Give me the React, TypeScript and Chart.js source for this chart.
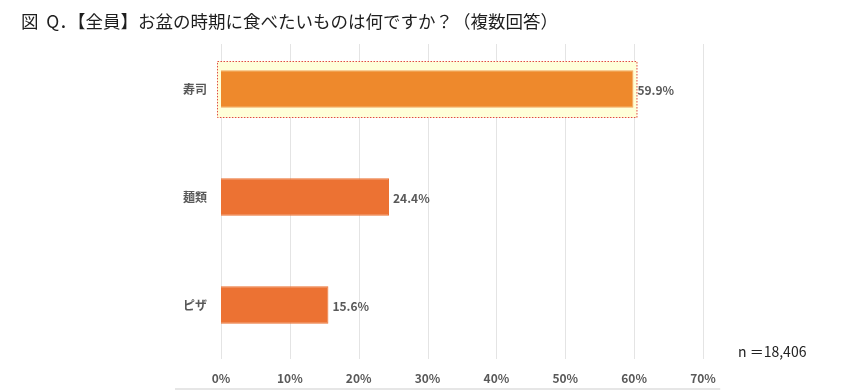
import React, { useEffect, useRef } from "react";
import { Chart, registerables } from "chart.js";

Chart.register(...registerables);

const TITLE = "図  Q．【全員】お盆の時期に食べたいものは何ですか？（複数回答）";
const NOTE = "n ＝18,406";
const categories = ["寿司", "麺類", "ピザ"];
const values = [59.9, 24.4, 15.6];
const barColors = ["#EE892C", "#EC7233", "#EC7233"];
const xTicks = [0, 10, 20, 30, 40, 50, 60, 70];

const FONT = "'Noto Sans CJK JP', 'Noto Sans', sans-serif";

const decor = {
  id: "decor",
  beforeDatasetsDraw(chart: any) {
    const { ctx, chartArea, scales } = chart;
    const xs = scales.x;
    ctx.save();
    ctx.strokeStyle = "#E4E4E4";
    ctx.lineWidth = 1;
    xTicks.forEach((t) => {
      const x = Math.round(xs.getPixelForValue(t)) + 0.5;
      ctx.beginPath();
      ctx.moveTo(x, chartArea.top + 9);
      ctx.lineTo(x, chartArea.bottom);
      ctx.stroke();
    });
    const meta = chart.getDatasetMeta(0);
    const el = meta.data[0];
    if (el) {
      const left = chartArea.left - 4;
      const right = el.x + 4;
      const top = el.y - 28;
      const bottom = el.y + 29;
      ctx.fillStyle = "#FFFFD9";
      ctx.fillRect(left, top, right - left, bottom - top);
      ctx.strokeStyle = "#E04848";
      ctx.lineWidth = 1;
      ctx.setLineDash([1.5, 1.5]);
      ctx.strokeRect(left + 0.5, top + 0.5, right - left - 1, bottom - top - 1);
      ctx.setLineDash([]);
    }
    ctx.restore();
  },
  afterDatasetsDraw(chart: any) {
    const { ctx } = chart;
    const meta = chart.getDatasetMeta(0);
    ctx.save();
    ctx.fillStyle = "#595959";
    ctx.font = `bold 12px ${FONT}`;
    ctx.textAlign = "left";
    ctx.textBaseline = "middle";
    meta.data.forEach((el: any, i: number) => {
      ctx.fillText(values[i].toFixed(1) + "%", el.x + 4, el.y + 1);
    });
    ctx.restore();
  },
  afterDraw(chart: any) {
    const { ctx, chartArea, scales } = chart;
    ctx.save();
    ctx.fillStyle = "#1E1E1E";
    ctx.font = `17.5px ${FONT}`;
    ctx.textAlign = "left";
    ctx.textBaseline = "middle";
    ctx.fillText(TITLE, 21, 21);
    ctx.font = `14px ${FONT}`;
    ctx.fillStyle = "#222222";
    ctx.fillText(NOTE, chartArea.right + 35, chartArea.bottom - 7);
    ctx.strokeStyle = "#E6E6E6";
    ctx.lineWidth = 2;
    ctx.beginPath();
    ctx.moveTo(chartArea.left - 46, 389);
    ctx.lineTo(scales.x.getPixelForValue(72.5), 389);
    ctx.stroke();
    ctx.restore();
  },
};

export default function App() {
  const ref = useRef<HTMLCanvasElement | null>(null);
  useEffect(() => {
    if (!ref.current) return;
    const chart = new Chart(ref.current, {
      type: "bar",
      data: {
        labels: categories,
        datasets: [
          {
            data: values,
            backgroundColor: barColors,
            borderColor: ["#F2A65E", "#EC7233", "#EC7233"],
            borderWidth: 1,
            barPercentage: 0.345,
            categoryPercentage: 1,
          },
        ],
      },
      options: {
        indexAxis: "y",
        animation: false,
        responsive: false,
        layout: { padding: { top: 35, right: 161, bottom: 0, left: 0 } },
        plugins: {
          legend: { display: false },
          tooltip: { enabled: false },
          title: { display: false },
        },
        scales: {
          x: {
            min: 0,
            max: 70,
            grid: { display: false, drawTicks: false },
            border: { display: false },
            ticks: {
              stepSize: 10,
              padding: 12,
              color: "#595959",
              font: { family: FONT, size: 12, weight: "bold" },
              callback: (v: any) => v + "%",
            },
            afterFit: (s: any) => {
              s.height = 33;
            },
          },
          y: {
            grid: { display: false, drawTicks: false },
            border: { display: false },
            ticks: {
              padding: 14,
              color: "#595959",
              font: { family: FONT, size: 12, weight: "bold" },
            },
            afterFit: (s: any) => {
              s.width = 221;
            },
          },
        },
      },
      plugins: [decor],
    });
    return () => chart.destroy();
  }, []);
  return (
    <div style={{ position: "absolute", left: 0, top: 0, width: 864, height: 392, background: "#fff" }}>
      <canvas ref={ref} width={864} height={392} />
    </div>
  );
}
